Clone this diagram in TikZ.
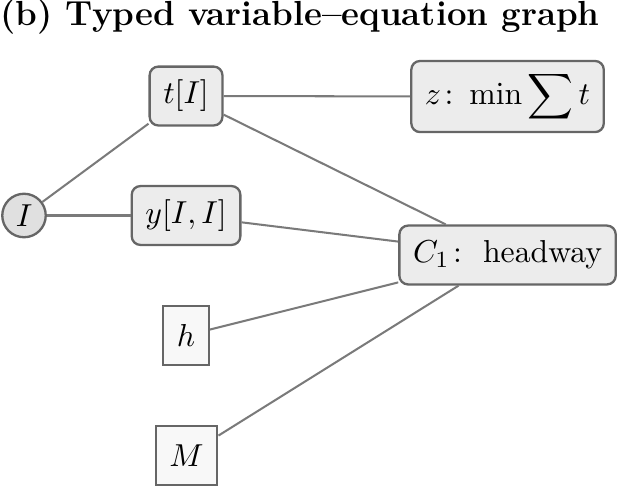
\documentclass[tikz,border=0pt,11pt]{standalone}
\usepackage{amsmath}
\usepackage{amssymb}
\usepackage{tikz}
\usepackage{xcolor}
\definecolor{boxline}{HTML}{666666}
\definecolor{linkgray}{HTML}{7A7A7A}
\definecolor{varfill}{HTML}{ECECEC}
\definecolor{parfill}{HTML}{F8F8F8}
\definecolor{setfill}{HTML}{E0E0E0}
\tikzset{
    var-box/.style = {draw=boxline, fill=varfill, line width=0.8pt, rectangle, rounded corners=3pt, inner xsep=4.7pt, inner ysep=3.5pt, minimum height=20.3pt},
    par-box/.style = {draw=boxline, fill=parfill, line width=0.8pt, rectangle, inner xsep=4.7pt, inner ysep=3.5pt, minimum height=20.3pt},
    set-node/.style = {draw=boxline, fill=setfill, line width=0.8pt, circle, inner sep=0pt, minimum size=15pt},
    link/.style = {draw=linkgray, line width=0.7pt},
}

\begin{document}
\begin{tikzpicture}
\useasboundingbox (0,0) rectangle (7.503,-5.891);
\node[anchor=base west, inner sep=0pt, font=\large\bfseries] (title) at (0,-0.303) {(b) Typed variable--equation graph};
\node[set-node] (I) at (0.291,-2.612) {$I$};
\node[var-box] (t) at (2.255,-1.164) {$t[I]$};
\node[var-box] (y) at (2.255,-2.612) {$y[I,I]$};
\node[var-box] (z) at (6.152,-1.170) {$z\colon \min\displaystyle\sum t$};
\node[var-box] (C1) at (6.152,-3.091) {$C_1\colon$ headway};
\node[par-box] (h) at (2.255,-4.067) {$h$};
\node[par-box] (M) at (2.261,-5.521) {$M$};
\draw[link] (I) -- (t);
\draw[link] (I) -- (y);
\draw[link] (t) -- (z);
\draw[link] (t) -- (C1);
\draw[link] (y) -- (C1);
\draw[link] (h) -- (C1);
\draw[link] (M) -- (C1);
\end{tikzpicture}
\end{document}
